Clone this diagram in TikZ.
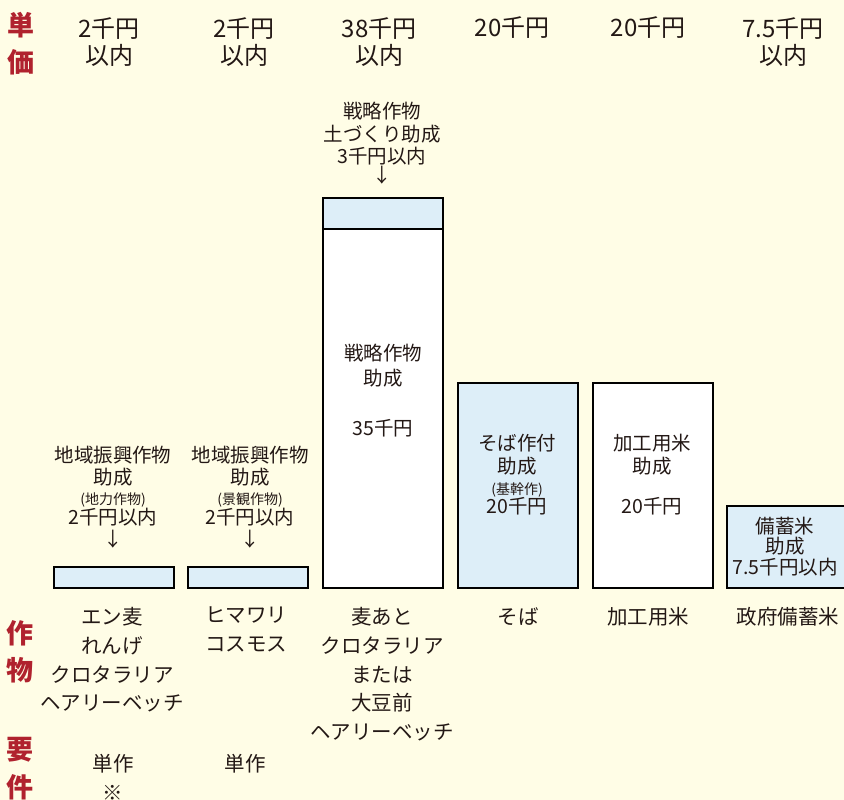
\documentclass[tikz,border=0pt]{standalone}
\usepackage{fontspec}
\setmainfont{Noto Sans CJK JP}
\definecolor{bgc}{HTML}{FFFDE6}
\definecolor{redc}{HTML}{B0222E}
\definecolor{lblue}{HTML}{DDEEF8}
\definecolor{ink}{HTML}{231815}
\tikzset{
  lbl/.style={font=\fontsize{27}{30}\selectfont\bfseries, text=redc, inner sep=0pt},
  head/.style={font=\fontsize{24}{27}\selectfont, text=ink, inner sep=0pt, align=center},
  txt/.style={font=\fontsize{19.5}{22}\selectfont, text=ink, inner sep=0pt, text height=0.8em, text depth=0.05em},
  sml/.style={font=\fontsize{14}{15}\selectfont, text=ink, inner sep=0pt, text height=0.8em, text depth=0.05em},
  crop/.style={font=\fontsize{20.5}{28.8}\selectfont, text=ink, inner sep=0pt, align=center},
  bar/.style={draw=black, line width=1.3pt},
}
\begin{document}
\begin{tikzpicture}[x=1pt,y=-1pt]
\useasboundingbox (0,0) rectangle (844,800);
\fill[bgc] (0,0) rectangle (844,800);
\clip (0,0) rectangle (844,800);
% side labels
\node[lbl] (l1) at (21,25) {単};
\node[lbl] (l2) at (21,62) {価};
\node[lbl] (l3) at (20,633) {作};
\node[lbl] (l4) at (20,670) {物};
\node[lbl] (l5) at (20,750) {要};
\node[lbl] (l6) at (20,787) {件};
% header prices
\node[head] (h1) at (109,42) {2千円\\以内};
\node[head] (h2) at (244,42) {2千円\\以内};
\node[head] (h3) at (379,42) {38千円\\以内};
\node[head] (h4) at (512,28) {20千円};
\node[head] (h5) at (648,28) {20千円};
\node[head] (h6) at (783,42) {7.5千円\\以内};
% bars
\path[bar, fill=lblue] (54,567) rectangle (174,588);
\path[bar, fill=lblue] (188,567) rectangle (308,588);
\path[bar, fill=white] (323,229) rectangle (443,588);
\path[bar, fill=lblue] (323,198) rectangle (443,229);
\draw[line width=2pt] (323,229) -- (443,229);
\path[bar, fill=lblue] (458,383) rectangle (578,588);
\path[bar, fill=white] (593,383) rectangle (713,588);
\path[bar, fill=lblue] (727,506) rectangle (860,588);
% col1 annotation
\node[txt] (a1) at (113,459) {地域振興作物};
\node[txt] (a2) at (113,481) {助成};
\node[sml] (a3) at (113,501) {(地力作物)};
\node[txt] (a4) at (113,521) {2千円以内};
\node[txt] (a5) at (113,543) {↓};
% col2 annotation
\node[txt] (b1) at (250,459) {地域振興作物};
\node[txt] (b2) at (250,481) {助成};
\node[sml] (b3) at (250,501) {(景観作物)};
\node[txt] (b4) at (250,521) {2千円以内};
\node[txt] (b5) at (250,543) {↓};
% col3 annotation
\node[txt] (c1) at (382,115) {戦略作物};
\node[txt] (c2) at (382,138) {土づくり助成};
\node[txt] (c3) at (382,160) {3千円以内};
\node[txt] (c4) at (382,179) {↓};
\node[txt] (c5) at (383,357) {戦略作物};
\node[txt] (c6) at (383,382) {助成};
\node[txt] (c7) at (383,432) {35千円};
% col4
\node[txt] (d1) at (517,447) {そば作付};
\node[txt] (d2) at (517,470) {助成};
\node[sml] (d3) at (517,491) {(基幹作)};
\node[txt] (d4) at (517,510) {20千円};
% col5
\node[txt] (e1) at (652,447) {加工用米};
\node[txt] (e2) at (652,470) {助成};
\node[txt] (e3) at (652,510) {20千円};
% col6
\node[txt] (f1) at (785,530) {備蓄米};
\node[txt] (f2) at (785,550) {助成};
\node[txt] (f3) at (785,571) {7.5千円以内};
% crops
\node[crop, anchor=north] (g1) at (112,607) {エン麦\\れんげ\\クロタラリア\\ヘアリーベッチ};
\node[crop, anchor=north] (g2) at (246,607) {ヒマワリ\\コスモス};
\node[crop, anchor=north] (g3) at (382,607) {麦あと\\クロタラリア\\または\\大豆前\\ヘアリーベッチ};
\node[crop, anchor=north] (g4) at (518,607) {そば};
\node[crop, anchor=north] (g5) at (648,607) {加工用米};
\node[crop, anchor=north] (g6) at (788,607) {政府備蓄米};
% requirements
\node[crop, anchor=north] (r1) at (113,754) {単作\\※};
\node[crop, anchor=north] (r2) at (245,754) {単作};
\end{tikzpicture}
\end{document}
